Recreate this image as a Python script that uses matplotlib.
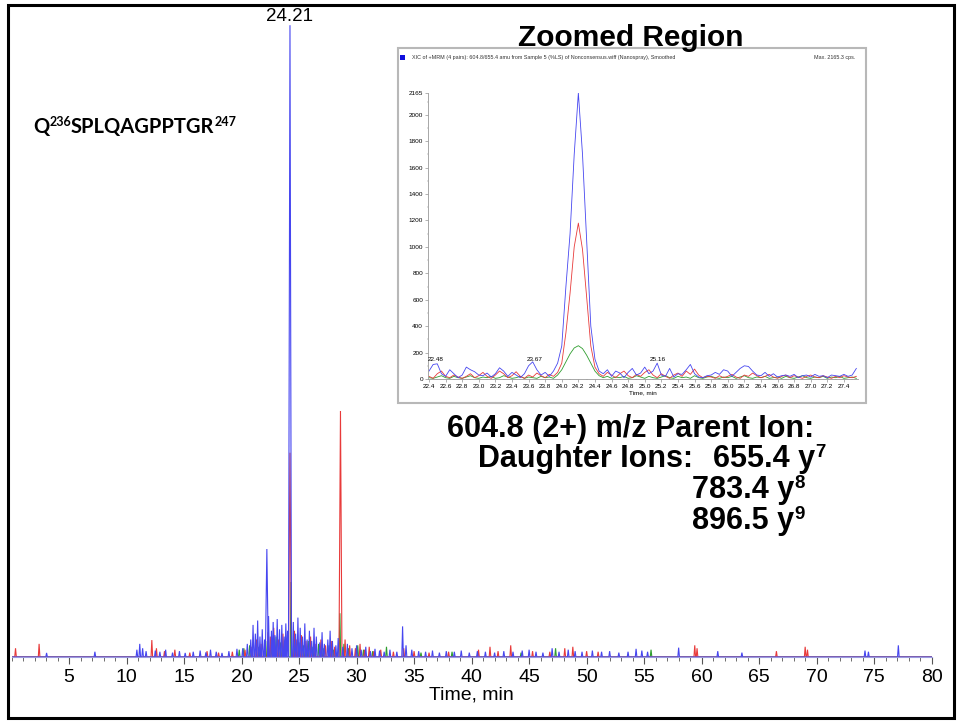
import numpy as np
import matplotlib
matplotlib.use("Agg")
import matplotlib.pyplot as plt
from matplotlib.transforms import IdentityTransform
from matplotlib.patches import Rectangle
from matplotlib.ticker import MultipleLocator

plt.rcParams['font.family'] = ['Liberation Sans', 'DejaVu Sans']

# ---------------- data ----------------
# main chromatogram: (time [min], intensity [cps]) peaks per transition
blue_peaks = [(3.05, 14), (7.25, 18), (10.9, 25), (11.15, 45), (11.4, 30), (11.7, 20), (12.5, 22),
              (12.9, 18), (13.4, 25), (14.0, 15), (14.6, 20), (15.1, 14), (15.8, 18), (16.4, 22),
              (16.9, 16), (17.3, 25), (17.8, 18), (18.3, 14), (18.9, 20), (19.6, 28), (20.1, 30),
              (20.5, 45), (20.8, 60), (21.0, 110), (21.2, 80), (21.4, 125), (21.6, 70), (21.8, 95),
              (22.0, 60), (22.2, 370), (22.35, 140), (22.6, 90), (22.75, 120), (22.9, 75), (23.1, 130),
              (23.3, 95), (23.5, 110), (23.7, 70), (23.85, 115), (24.0, 90), (24.21, 2165), (24.5, 120),
              (24.7, 80), (24.9, 135), (25.1, 100), (25.3, 70), (25.5, 115), (25.7, 60), (25.9, 90),
              (26.1, 55), (26.3, 100), (26.5, 70), (26.8, 50), (27.0, 85), (27.2, 45), (27.5, 60),
              (27.7, 90), (27.9, 55), (28.2, 40), (28.4, 65), (28.8, 35), (29.2, 45), (29.6, 30),
              (30.0, 40), (30.4, 25), (30.8, 35), (31.2, 20), (31.6, 28), (32.0, 22), (32.4, 18),
              (32.9, 25), (33.5, 18), (34.0, 105), (34.3, 40), (34.8, 25), (35.4, 20), (36.0, 18),
              (36.6, 22), (37.2, 15), (37.8, 20), (38.5, 18), (39.1, 22), (39.8, 15), (40.5, 20),
              (41.2, 18), (42.0, 15), (42.8, 20), (43.6, 18), (44.4, 22), (45.0, 25), (45.6, 18),
              (46.2, 15), (47.0, 30), (47.6, 18), (48.4, 25), (49.0, 20), (49.6, 18), (50.5, 22),
              (51.3, 18), (52.0, 20), (52.8, 15), (53.6, 18), (54.3, 28), (54.8, 22), (55.3, 18),
              (58.0, 32), (61.4, 20), (63.5, 15), (74.2, 22), (74.5, 18), (77.1, 40)]
red_peaks = [(0.35, 30), (2.4, 45), (12.2, 58), (12.6, 30), (13.3, 20), (14.2, 25), (15.5, 15),
             (17.0, 20), (18.0, 15), (19.2, 18), (20.3, 25), (20.9, 35), (21.3, 60), (21.7, 45),
             (22.3, 85), (22.5, 70), (22.8, 100), (23.2, 60), (23.6, 80), (24.21, 700), (24.6, 90),
             (24.8, 60), (25.2, 75), (25.6, 55), (26.0, 70), (26.4, 45), (26.9, 60), (27.3, 40),
             (27.8, 55), (28.1, 35), (28.6, 843), (29.0, 60), (29.4, 40), (29.9, 30), (30.3, 45),
             (30.7, 25), (31.1, 35), (31.5, 20), (32.1, 25), (33.2, 18), (34.1, 30), (35.0, 20),
             (36.3, 15), (38.0, 18), (40.6, 25), (41.6, 35), (42.3, 20), (43.4, 40), (45.3, 20),
             (46.8, 18), (48.1, 30), (48.8, 35), (50.0, 20), (51.0, 18), (59.4, 40), (59.6, 30),
             (66.5, 20), (69.0, 35), (69.2, 25)]
green_peaks = [(19.8, 25), (20.2, 30), (20.7, 40), (21.5, 35), (22.1, 55), (22.6, 45), (23.0, 70),
               (23.4, 50), (23.8, 60), (24.3, 257), (24.6, 65), (25.0, 50), (25.4, 40), (25.8, 55),
               (26.2, 35), (26.7, 45), (27.1, 30), (27.6, 40), (28.0, 25), (28.55, 150), (28.9, 45),
               (29.3, 30), (30.1, 40), (30.6, 25), (31.4, 20), (32.6, 35), (35.6, 15), (38.3, 18),
               (44.3, 15), (47.3, 30), (55.6, 25)]

main_xticks = [5, 10, 15, 20, 25, 30, 35, 40, 45, 50, 55, 60, 65, 70, 75, 80]
apex_label = "24.21"
apex_time = 24.21
apex_height = 2165

# zoomed region: intensity sampled every 0.05 min starting at 22.40 min
zoom_start = 22.40
zoom_step = 0.05
zoom_blue = [60, 110, 115, 40, 20, 70, 40, 10, 30, 90, 70, 55,
             30, 25, 45, 15, 40, 85, 60, 20, 50, 30, 10, 40,
             100, 130, 70, 30, 50, 20, 60, 120, 250, 700, 1100, 1700,
             2165, 1700, 1050, 400, 150, 60, 40, 70, 20, 60, 45, 10,
             50, 80, 30, 45, 90, 40, 60, 120, 30, 20, 80, 15,
             40, 35, 70, 110, 40, 15, 10, 25, 30, 50, 35, 70,
             60, 20, 50, 80, 100, 95, 60, 30, 25, 50, 20, 40,
             15, 25, 30, 20, 35, 10, 25, 30, 15, 35, 20, 25,
             10, 30, 25, 20, 35, 20, 30, 80]
zoom_red = [20, 5, 40, 60, 20, 10, 30, 15, 5, 20, 40, 10,
            25, 50, 20, 5, 30, 60, 40, 10, 25, 55, 20, 5,
            30, 15, 45, 25, 10, 35, 20, 50, 120, 350, 650, 1000,
            1180, 980, 620, 250, 90, 40, 20, 50, 30, 10, 40, 60,
            25, 10, 35, 20, 50, 70, 30, 10, 40, 20, 5, 30,
            45, 20, 60, 35, 75, 30, 10, 20, 15, 5, 25, 10,
            20, 35, 15, 5, 30, 20, 45, 25, 10, 20, 35, 15,
            5, 20, 30, 10, 25, 15, 5, 20, 30, 15, 10, 25,
            15, 5, 20, 10, 25, 15, 10, 20]
zoom_green = [10, 5, 15, 25, 10, 5, 20, 10, 5, 15, 25, 10,
              5, 15, 10, 20, 5, 10, 25, 15, 5, 10, 20, 5,
              15, 10, 5, 20, 10, 15, 5, 30, 70, 130, 190, 235,
              252, 230, 180, 120, 60, 25, 10, 20, 5, 15, 10, 20,
              5, 10, 25, 15, 5, 20, 10, 5, 15, 25, 10, 5,
              20, 10, 15, 5, 25, 10, 5, 15, 20, 10, 5, 15,
              10, 20, 5, 15, 25, 10, 5, 15, 10, 20, 5, 10,
              15, 5, 20, 10, 5, 15, 25, 10, 5, 15, 10, 20,
              5, 15, 10, 20, 5, 10, 15, 5]
zoom_xticks = [22.4, 22.6, 22.8, 23.0, 23.2, 23.4, 23.6, 23.8, 24.0, 24.2, 24.4, 24.6, 24.8,
               25.0, 25.2, 25.4, 25.6, 25.8, 26.0, 26.2, 26.4, 26.6, 26.8, 27.0, 27.2, 27.4]
zoom_yticks = [0, 200, 400, 600, 800, 1000, 1200, 1400, 1600, 1800, 2000, 2165]
zoom_peak_labels = [(22.48, "22.48"), (23.67, "23.67"), (25.16, "25.16")]
zoom_max = 2165.3

# ---------------- figure ----------------
W, H = 960, 723
fig = plt.figure(figsize=(W / 100, H / 100), dpi=100)


def fx(px):
    return px / W


def fy(py):
    return 1 - py / H


BLUE = '#4646f0'
RED = '#e83a3a'
GREEN = '#2f9e2f'


def trace(peaks, xmax=80.0):
    xs, ys = [0.0], [0.0]
    for t, h in sorted(peaks):
        w = 0.13 if h > 300 else 0.07
        xs += [t - w, t, t + w]
        ys += [0, h, 0]
    xs.append(xmax)
    ys.append(0)
    return xs, ys


# main axes
ax = fig.add_axes([fx(11.5), fy(657), fx(931.7) - fx(11.5), fy(15) - fy(657)])
for peaks, col in [(green_peaks, GREEN), (red_peaks, RED), (blue_peaks, BLUE)]:
    xs, ys = trace(peaks)
    ax.plot(xs, ys, color=col, lw=0.8, solid_joinstyle='miter')
ax.set_xlim(0, 80)
ax.set_ylim(0, 2200)
for s in ['left', 'top', 'right']:
    ax.spines[s].set_visible(False)
ax.spines['bottom'].set_color('#9a9ae0')
ax.spines['bottom'].set_linewidth(0.8)
ax.set_yticks([])
ax.set_xticks(main_xticks)
ax.set_xticklabels([str(v) for v in main_xticks])
ax.xaxis.set_minor_locator(MultipleLocator(1))
ax.tick_params(axis='x', which='major', length=5, width=0.8, color='#555555',
               labelsize=14, pad=4)
ax.tick_params(axis='x', which='minor', length=3, width=0.6, color='#555555')
ax.set_xlabel("Time, min", fontsize=14, labelpad=0)
ax.text(apex_time, apex_height, apex_label, ha='center', va='bottom', fontsize=13.5)
ax.patch.set_alpha(0)

# inset frame
fig.patches.append(Rectangle((fx(398), fy(403)), fx(866) - fx(398), fy(48) - fy(403),
                             transform=fig.transFigure, fill=True, facecolor='white',
                             edgecolor='#b8b8b8', lw=1.5, zorder=2))

ax2 = fig.add_axes([fx(428), fy(379), fx(858) - fx(428), fy(93) - fy(379)], zorder=3)
for arr, col in [(zoom_green, GREEN), (zoom_red, RED), (zoom_blue, BLUE)]:
    t = zoom_start + zoom_step * np.arange(len(arr))
    ax2.plot(t, arr, color=col, lw=0.6)
ax2.set_xlim(22.388, 27.57)
ax2.set_ylim(0, 2165)
for s in ['top', 'right']:
    ax2.spines[s].set_visible(False)
for s in ['left', 'bottom']:
    ax2.spines[s].set_color('#999999')
    ax2.spines[s].set_linewidth(0.6)
ax2.set_xticks(zoom_xticks)
ax2.set_xticklabels([f"{v:.1f}" for v in zoom_xticks])
ax2.set_yticks(zoom_yticks)
ax2.set_yticklabels([str(v) for v in zoom_yticks])
ax2.xaxis.set_minor_locator(MultipleLocator(0.1))
ax2.yaxis.set_minor_locator(MultipleLocator(100))
ax2.tick_params(which='major', length=2, width=0.4, color='#777777', labelsize=4.6, pad=1.5)
ax2.tick_params(which='minor', length=1, width=0.3, color='#777777')
ax2.set_xlabel("Time, min", fontsize=4.6, labelpad=1)
for tt, lab in zoom_peak_labels:
    ax2.text(tt, 130, lab, ha='center', va='bottom', fontsize=4.6)

fig.text(fx(631), fy(46), "Zoomed Region", ha='center', va='baseline', fontsize=21.5,
         weight='bold', zorder=5)
fig.patches.append(Rectangle((fx(400), fy(60)), fx(5), fy(55) - fy(60), transform=fig.transFigure,
                             facecolor='#1010dd', edgecolor='none', zorder=5))
fig.text(fx(412), fy(57.5), "XIC of +MRM (4 pairs): 604.8/655.4 amu from Sample 5 (%LS) of Nonconsensus.wiff (Nanospray), Smoothed",
         ha='left', va='center', fontsize=3.9, color='#333333', zorder=5)
fig.text(fx(855), fy(57.5), f"Max. {zoom_max} cps.", ha='right', va='center', fontsize=3.9,
         color='#333333', zorder=5)

# figure border
fig.patches.append(Rectangle((fx(8), fy(718)), fx(954) - fx(8), fy(5) - fy(718),
                             transform=fig.transFigure, fill=False, edgecolor='black', lw=2.2,
                             zorder=10))

renderer = fig.canvas.get_renderer()


def seq(x, ybase, parts, **kw):
    cx = x
    for s, size, rise in parts:
        t = fig.text(cx, H - ybase + rise, s, transform=IdentityTransform(), fontsize=size,
                     ha='left', va='baseline', **kw)
        cx = t.get_window_extent(renderer).x1
    return cx


seq(33, 133, [("Q", 14.5, 0), ("236", 9, 7), ("SPLQAGPPTGR", 14.5, 0), ("247", 9, 7)],
    family=['Lato', 'DejaVu Sans'], weight='bold')

bold = dict(family=['Liberation Sans', 'DejaVu Sans'], weight='bold')
seq(447, 437, [("604.8 (2+) m/z Parent Ion:", 22, 0)], **bold)
seq(478, 467, [("Daughter Ions:", 22, 0)], **bold)
seq(713, 467, [("655.4 y", 22, 0), ("7", 13.5, 10)], **bold)
seq(692, 498, [("783.4 y", 22, 0), ("8", 13.5, 10)], **bold)
seq(692, 529, [("896.5 y", 22, 0), ("9", 13.5, 10)], **bold)

fig.savefig("out.png", dpi=100)
